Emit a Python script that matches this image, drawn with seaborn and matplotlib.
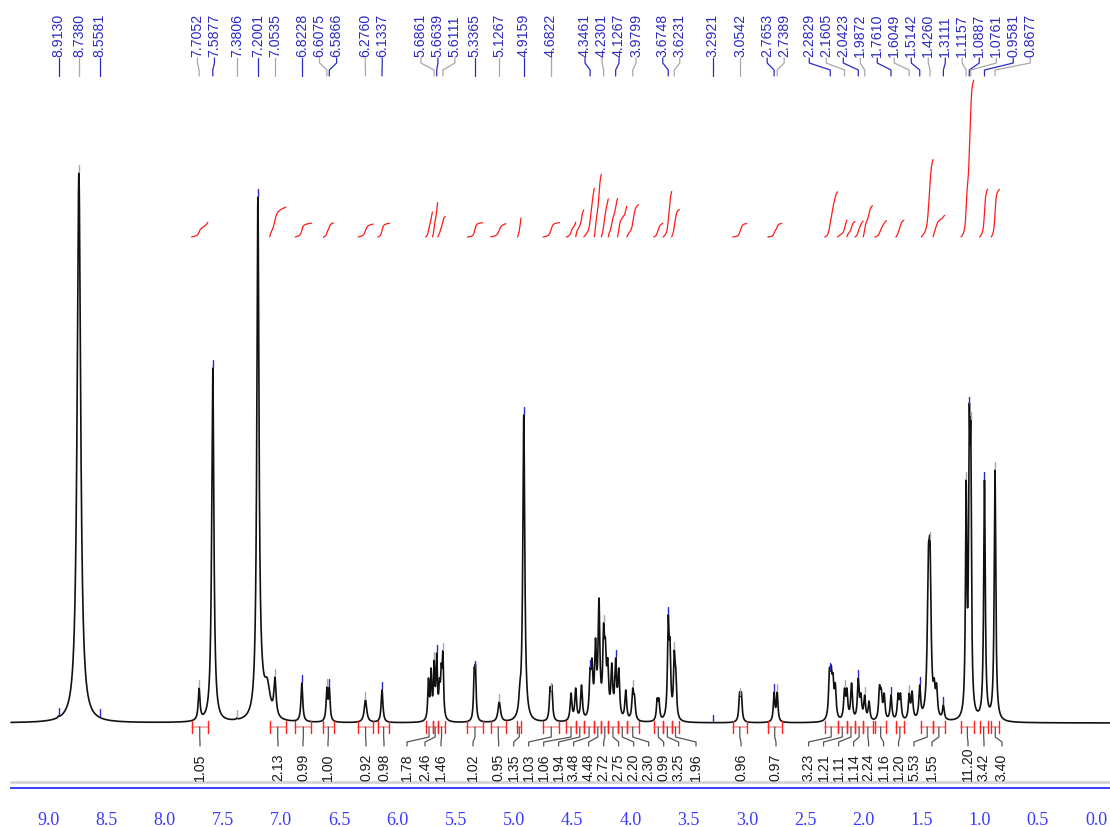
import numpy as np
import pandas as pd
import matplotlib
matplotlib.use("Agg")
import matplotlib.pyplot as plt
import seaborn as sns

# ---------------- data ----------------
# spectrum lines: position (ppm), apparent height above baseline, half width (ppm)
PEAK_PPM = [8.913, 8.738, 8.558,
            7.7052, 7.5877, 7.3806,
            7.2001, 7.17, 7.12, 7.0535,
            6.8228, 6.6075, 6.5866, 6.2760, 6.1337,
            5.735, 5.712, 5.6861, 5.6639, 5.640, 5.625, 5.6111,
            5.342, 5.331, 5.1267,
            4.950, 4.930, 4.9159, 4.904,
            4.690, 4.675,
            4.510, 4.470, 4.420, 4.3461, 4.33, 4.300, 4.270, 4.2301, 4.215, 4.195,
            4.160, 4.1267, 4.100, 4.040, 3.9799, 3.965,
            3.770, 3.755, 3.6748, 3.660, 3.6231, 3.610,
            3.062, 3.047,
            2.7653, 2.7389,
            2.290, 2.275, 2.260, 2.240, 2.1605, 2.140, 2.100, 2.0423, 2.020, 1.9872,
            1.950, 1.860, 1.845, 1.820, 1.7610, 1.700, 1.680, 1.6049, 1.580,
            1.5142, 1.4400, 1.4260, 1.3900, 1.3700, 1.3111,
            1.1157, 1.0887, 1.0761, 0.9581, 0.8677]
PEAK_HEIGHT = [7, 550, 5,
               35, 355, 5,
               526, 85, 45, 46,
               40, 36, 36, 23, 33,
               45, 55, 63, 70, 45, 60, 72,
               55, 58, 21,
               40, 80, 308, 90,
               36, 38,
               30, 35, 38, 55, 65, 85, 125, 100, 85, 65,
               60, 65, 55, 33, 35, 28,
               25, 25, 108, 85, 73, 55,
               31, 31,
               31, 31,
               55, 58, 50, 40, 35, 35, 40, 45, 30, 28,
               22, 38, 35, 30, 28, 30, 30, 30, 32,
               38, 175, 183, 45, 40, 18,
               243, 318, 303, 243, 253]
PEAK_HWHM = [0.006, 0.018, 0.006,
             0.009, 0.011, 0.006,
             0.011, 0.030, 0.030, 0.011,
             0.009, 0.008, 0.008, 0.013, 0.009,
             0.007, 0.007, 0.007, 0.007, 0.007, 0.007, 0.007,
             0.007, 0.007, 0.013,
             0.010, 0.008, 0.010, 0.008,
             0.008, 0.008,
             0.009, 0.009, 0.009, 0.009, 0.009, 0.009, 0.009, 0.009, 0.009, 0.009,
             0.009, 0.009, 0.009, 0.009, 0.009, 0.009,
             0.008, 0.008, 0.008, 0.008, 0.008, 0.008,
             0.008, 0.008,
             0.008, 0.008,
             0.009, 0.009, 0.009, 0.009, 0.009, 0.009, 0.009, 0.009, 0.009, 0.009,
             0.009, 0.009, 0.009, 0.009, 0.009, 0.009, 0.009, 0.009, 0.009,
             0.009, 0.011, 0.011, 0.009, 0.009, 0.009,
             0.007, 0.007, 0.007, 0.008, 0.008]

# picked peak labels (ppm)
LABEL_PPM = [8.9130, 8.7380, 8.5581, 7.7052, 7.5877, 7.3806, 7.2001, 7.0535,
             6.8228, 6.6075, 6.5866, 6.2760, 6.1337, 5.6861, 5.6639, 5.6111,
             5.3365, 5.1267, 4.9159, 4.6822, 4.3461, 4.2301, 4.1267, 3.9799,
             3.6748, 3.6231, 3.2921, 3.0542, 2.7653, 2.7389, 2.2829, 2.1605,
             2.0423, 1.9872, 1.7610, 1.6049, 1.5142, 1.4260, 1.3111, 1.1157,
             1.0887, 1.0761, 0.9581, 0.8677]

# integrals: value, region start / end (ppm)
INT_VALUE = [1.05, 2.13, 0.99, 1.00, 0.92, 0.98, 1.78, 2.46, 1.46, 1.02, 0.95,
             1.35, 1.03, 1.06, 1.94, 3.48, 4.48, 2.72, 2.75, 2.20, 2.30,
             0.99, 3.25, 1.96, 0.96, 0.97, 3.23, 1.21, 1.11, 1.14, 2.24,
             1.16, 1.20, 5.53, 1.55, 11.20, 3.42, 3.40]
INT_FROM = [7.77, 7.10, 6.88, 6.64, 6.34, 6.17, 5.76, 5.70, 5.655, 5.40, 5.20,
            4.97, 4.75, 4.55, 4.47, 4.40, 4.31, 4.25, 4.19, 4.11, 4.03,
            3.80, 3.72, 3.645, 3.12, 2.82, 2.33, 2.22, 2.14, 2.07, 2.00,
            1.90, 1.72, 1.50, 1.40, 1.16, 1.00, 0.90]
INT_TO = [7.63, 6.96, 6.74, 6.55, 6.21, 6.07, 5.70, 5.655, 5.59, 5.27, 5.07,
          4.94, 4.61, 4.47, 4.40, 4.31, 4.25, 4.19, 4.11, 4.03, 3.93,
          3.72, 3.645, 3.58, 3.00, 2.70, 2.22, 2.14, 2.07, 2.00, 1.92,
          1.80, 1.65, 1.40, 1.30, 1.05, 0.93, 0.83]

AXIS_MAJOR = [9.0, 8.5, 8.0, 7.5, 7.0, 6.5, 6.0, 5.5, 5.0, 4.5, 4.0, 3.5,
              3.0, 2.5, 2.0, 1.5, 1.0, 0.5, 0.0]

# ---------------- layout ----------------
W, H = 1110, 827
PX_PER_PPM = 116.4
X_ZERO = 1096.0
XL = X_ZERO / PX_PER_PPM
XR = (X_ZERO - W) / PX_PER_PPM
SPEC_START = (X_ZERO - 11) / PX_PER_PPM
BASE_Y = 723
INT_BASE_Y = 237
INT_SCALE = 14.0
BLUE_TXT = "#2b2bc2"
AXIS_BLUE = "#3a3aff"
GRAY = "#a8a8a8"
# preferred horizontal placement (pixels) of the integral value labels, as in the reference
INT_LABEL_PX = [200, 278, 303, 328, 366, 384, 407, 425, 441, 473, 499,
                519, 546, 569, 575, 582, 590, 597, 605, 612, 631,
                657, 671, 696, 741, 776, 811, 827, 845, 857, 862,
                878, 895, 914, 932, 968, 984, 1002]

sns.set_style("white")
plt.rcParams["font.family"] = ["Liberation Sans", "DejaVu Sans"]

fig = plt.figure(figsize=(W / 100, H / 100), dpi=100)
ax = fig.add_axes([0, 0, 1, 1])
ax.set_xlim(XL, XR)
ax.set_ylim(H, 0)

P = np.array(PEAK_PPM)
T = np.array(PEAK_HEIGHT, float)
Wd = np.array(PEAK_HWHM)
# Lorentzian amplitudes so that the summed curve reaches the observed heights
A = 1.0 / (1 + ((P[:, None] - P[None, :]) / Wd[None, :]) ** 2)
amp = T.copy()
for _ in range(400):
    amp = np.clip(amp + 0.5 * (T - A @ amp), 0, None)

ppm = np.linspace(SPEC_START, XR, 24000)


def spec_at(x):
    x = np.atleast_1d(x)[:, None]
    return (amp[None, :] / (1 + ((x - P[None, :]) / Wd[None, :]) ** 2)).sum(axis=1)


spec = spec_at(ppm)

df_spec = pd.DataFrame({"ppm": ppm, "y": BASE_Y - spec})
sns.lineplot(data=df_spec, x="ppm", y="y", ax=ax, color="#111111", lw=1.2,
             sort=False, estimator=None)

# ---------- integral curves ----------
rows = []
for k, (v, a, b) in enumerate(zip(INT_VALUE, INT_FROM, INT_TO)):
    m = (ppm <= a) & (ppm >= b)
    cum = np.cumsum(spec[m])
    cum = cum / cum[-1] * v * INT_SCALE
    rows.append(pd.DataFrame({"ppm": ppm[m], "y": INT_BASE_Y - cum, "id": k}))
df_int = pd.concat(rows)
sns.lineplot(data=df_int, x="ppm", y="y", units="id", estimator=None, sort=False,
             color="#ff1a1a", lw=0.9, ax=ax, legend=False)


def spread(nat, sp):
    """push labels apart (in descending ppm order) keeping clusters centred"""
    nat = np.asarray(nat, float)
    order = np.argsort(-nat)
    u = -nat[order]
    clusters = [[x] for x in u]

    def pos(c):
        return np.mean(c) - (len(c) - 1) / 2 * sp + np.arange(len(c)) * sp

    merged = True
    while merged:
        merged = False
        for i in range(len(clusters) - 1):
            if pos(clusters[i])[-1] + sp > pos(clusters[i + 1])[0] + 1e-9:
                clusters[i] = clusters[i] + clusters[i + 1]
                del clusters[i + 1]
                merged = True
                break
    out_u = np.concatenate([pos(c) for c in clusters])
    res = np.empty_like(nat)
    res[order] = -out_u
    return res


# ---------- peak labels ----------
lab_pos = spread(LABEL_PPM, 17 / PX_PER_PPM)
tops = spec_at(LABEL_PPM)
for i, (p, lp, t) in enumerate(zip(LABEL_PPM, lab_pos, tops)):
    c = BLUE_TXT if i % 2 == 0 else GRAY
    ax.plot([lp, lp, p, p], [58, 63, 70, 76], color=c, lw=0.9)
    ax.text(lp, 57, f"{p:.4f}", rotation=90, ha="center", va="bottom",
            fontsize=10.2, color=BLUE_TXT)
    ytop = BASE_Y - t
    ax.plot([p, p], [ytop - 1, ytop - 8], color=c, lw=1.0)

# ---------- integral brackets and values ----------
centers = [(a + b) / 2 for a, b in zip(INT_FROM, INT_TO)]
pref = [(X_ZERO - px) / PX_PER_PPM for px in INT_LABEL_PX]
ilab = spread(pref, 15 / PX_PER_PPM)
for v, a, b, c, lp in zip(INT_VALUE, INT_FROM, INT_TO, centers, ilab):
    ax.plot([a, b], [727, 727], color="#f4a3a3", lw=1.2)
    ax.plot([a, a], [721, 733], color="#ff2020", lw=1.0)
    ax.plot([b, b], [721, 733], color="#ff2020", lw=1.0)
    ax.plot([c, c, lp, lp], [727, 737, 742, 746], color="#555555", lw=0.9)
    ax.text(lp, 781, f"{v:.2f}", rotation=90, ha="center", va="bottom",
            fontsize=10.2, color="#1a1a1a")

# ---------- separator + ppm axis ----------
ax.plot([SPEC_START, XR], [782, 782], color="#d6d6d6", lw=2.2)
for s in ["top", "left", "right"]:
    ax.spines[s].set_visible(False)
ax.spines["bottom"].set_position(("data", 788))
ax.spines["bottom"].set_bounds(SPEC_START, XR)
ax.spines["bottom"].set_color(AXIS_BLUE)
ax.spines["bottom"].set_linewidth(1.4)
ax.yaxis.set_visible(False)
ax.set_xticks(AXIS_MAJOR)
ax.set_xticks(np.array(AXIS_MAJOR[:-1]) - 0.25, minor=True)
ax.set_xticklabels([f"{t:.1f}" for t in AXIS_MAJOR])
ax.tick_params(axis="x", which="major", direction="out", length=6, width=1.1,
               color=AXIS_BLUE, labelcolor=AXIS_BLUE, labelsize=13, pad=11)
ax.tick_params(axis="x", which="minor", direction="out", length=3.5, width=1.1,
               color=AXIS_BLUE)
for t in ax.get_xticklabels():
    t.set_fontfamily("Liberation Serif")
ax.set_xlabel("")
ax.set_ylabel("")

fig.savefig("out.png", dpi=100, facecolor="white")
